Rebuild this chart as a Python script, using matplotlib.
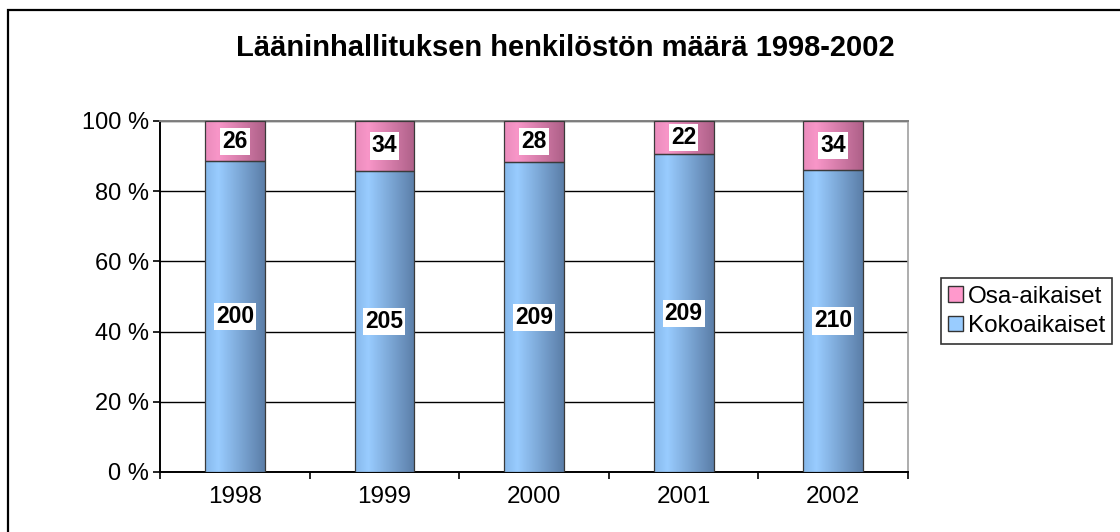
import numpy as np
import matplotlib.pyplot as plt
from matplotlib.colors import LinearSegmentedColormap
from matplotlib.patches import Patch, Rectangle

plt.rcParams["font.family"] = ["Liberation Sans", "DejaVu Sans"]

# --- data ---
YEARS = ["1998", "1999", "2000", "2001", "2002"]
KOKO = [200, 205, 209, 209, 210]   # Kokoaikaiset
OSA = [26, 34, 28, 22, 34]         # Osa-aikaiset
TITLE = "Lääninhallituksen henkilöstön määrä 1998-2002"
Y_TICKS = [0, 20, 40, 60, 80, 100]

C_BLUE, C_PINK = "#99CCFF", "#FF99CC"
CM_BLUE = LinearSegmentedColormap.from_list(
    "blue", [(0, "#86b8ea"), (0.22, "#99ccff"), (1, "#5b7ea8")])
CM_PINK = LinearSegmentedColormap.from_list(
    "pink", [(0, "#ea8cbc"), (0.22, "#f896c8"), (1, "#ae6088")])

koko = np.array(KOKO, float)
osa = np.array(OSA, float)
tot = koko + osa
koko_pct = koko / tot * 100
osa_pct = osa / tot * 100

fig = plt.figure(figsize=(11.2, 5.32), dpi=100)
ax = fig.add_axes([0.1429, 0.1128, 0.8107 - 0.1429, 0.7726 - 0.1128])

x = np.arange(len(YEARS))
b1 = ax.bar(x, koko_pct, width=0.4, facecolor="none", edgecolor="#3a3a3a", lw=0.9, zorder=4)
b2 = ax.bar(x, osa_pct, width=0.4, bottom=koko_pct, facecolor="none",
            edgecolor="#3a3a3a", lw=0.9, zorder=4)

grad = np.linspace(0, 1, 200).reshape(1, -1)
for bars, cm in ((b1, CM_BLUE), (b2, CM_PINK)):
    for p in bars:
        x0, y0 = p.get_x(), p.get_y()
        ax.imshow(grad, cmap=cm, aspect="auto", zorder=3,
                  extent=(x0, x0 + p.get_width(), y0, y0 + p.get_height()))

# data labels
lab_kw = dict(ha="center", va="center", fontsize=16.5, fontweight="bold", zorder=6,
              bbox=dict(facecolor="white", edgecolor="none", pad=1.5))
for i in range(len(YEARS)):
    ax.text(x[i], koko_pct[i] / 2, f"{KOKO[i]}", **lab_kw)
    ax.text(x[i], koko_pct[i] + osa_pct[i] / 2, f"{OSA[i]}", **lab_kw)

ax.set_xlim(-0.5, len(YEARS) - 0.5)
ax.set_ylim(0, 100)
ax.set_yticks(Y_TICKS)
ax.set_yticklabels([f"{t} %" for t in Y_TICKS])
ax.set_xticks(x)
ax.set_xticklabels(YEARS)
ax.set_xticks(np.arange(len(YEARS) + 1) - 0.5, minor=True)
ax.tick_params(axis="x", which="major", length=0, labelsize=17.5, pad=10)
ax.tick_params(axis="x", which="minor", length=5, width=1.2, direction="out")
ax.tick_params(axis="y", length=5, width=1.2, labelsize=17, pad=3)

ax.yaxis.grid(True, color="black", lw=1)
ax.set_axisbelow(True)
for s in ("left", "bottom"):
    ax.spines[s].set_linewidth(1.4)
ax.spines["top"].set_color("#808080")
ax.spines["top"].set_linewidth(1.4)
ax.spines["right"].set_color("#a0a0a0")
ax.spines["right"].set_linestyle((0, (1, 1)))
ax.spines["right"].set_linewidth(1.2)

fig.text(0.505, 0.91, TITLE, ha="center", va="center", fontsize=21, fontweight="bold")

handles = [Patch(facecolor=C_PINK, edgecolor="#333333", lw=1),
           Patch(facecolor=C_BLUE, edgecolor="#333333", lw=1)]
leg = fig.legend(handles, ["Osa-aikaiset", "Kokoaikaiset"], loc="center left",
                 bbox_to_anchor=(0.840, 0.415), fontsize=17.5, frameon=True, fancybox=False,
                 edgecolor="black", handlelength=0.6, handleheight=0.6, handletextpad=0.2,
                 borderpad=0.3, labelspacing=0.3, borderaxespad=0)
leg.get_frame().set_linewidth(1.2)

# outer chart frame (only top/left visible in the reference)
fig.add_artist(Rectangle((8 / 1120, -0.1), 1.2, 1 - 10 / 532 + 0.1, transform=fig.transFigure,
                         fill=False, edgecolor="black", lw=1.6, clip_on=False))

fig.savefig("out.png", dpi=100)
